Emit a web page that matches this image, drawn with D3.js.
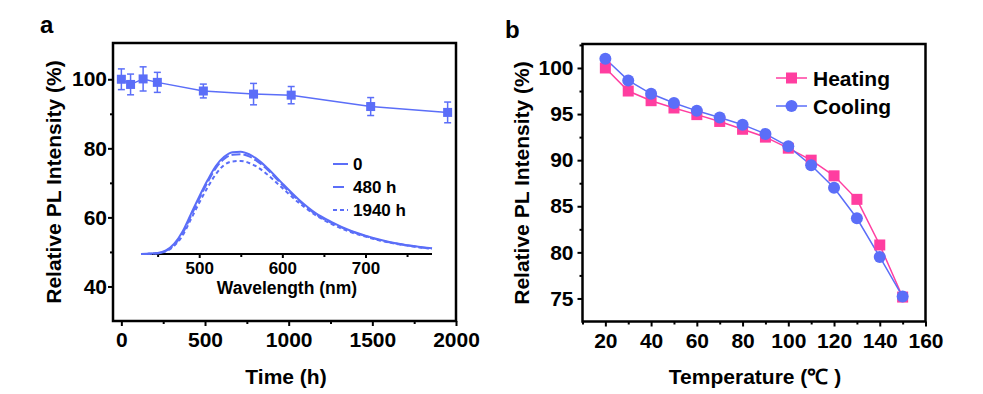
<!DOCTYPE html>
<html>
<head>
<meta charset="utf-8">
<script src="https://cdn.jsdelivr.net/npm/d3@7"></script>
<style>
  body { margin: 0; background: #fff; }
  text { font-family: "Liberation Sans", Arial, sans-serif; font-weight: bold; }
</style>
</head>
<body>
<div id="chart"></div>
<script>
// ---- panel a: stability over time ----
const timeH = [0, 55, 130, 215, 490, 790, 1015, 1490, 1950];
const relPL = [100, 98.5, 100.1, 99.1, 96.6, 95.7, 95.4, 92.1, 90.4];
const relErr = [3, 3, 3.5, 2.9, 2, 3.1, 2.5, 2.6, 3];

// inset spectra
const wavelength = [430, 450, 460, 470, 480, 490, 500, 510, 520, 530, 540, 550, 560, 570, 580, 590, 600, 620, 640, 660, 680, 700, 720, 740, 760, 780];
const spec0 = [0, 0.01, 0.035, 0.10, 0.22, 0.39, 0.56, 0.72, 0.86, 0.95, 0.995, 1.0, 0.975, 0.925, 0.855, 0.775, 0.69, 0.53, 0.40, 0.31, 0.235, 0.18, 0.135, 0.10, 0.075, 0.055];
const spec480 = [0, 0.008, 0.03, 0.09, 0.20, 0.37, 0.54, 0.70, 0.84, 0.93, 0.97, 0.975, 0.955, 0.905, 0.84, 0.76, 0.675, 0.52, 0.39, 0.30, 0.23, 0.175, 0.13, 0.097, 0.072, 0.053];
const spec1940 = [0, 0.007, 0.027, 0.08, 0.18, 0.34, 0.50, 0.65, 0.78, 0.87, 0.905, 0.91, 0.89, 0.85, 0.79, 0.72, 0.645, 0.50, 0.38, 0.29, 0.22, 0.17, 0.127, 0.094, 0.07, 0.05];
const specLabels = ["0", "480 h", "1940 h"];

// ---- panel b: temperature dependence ----
const temps = [20, 30, 40, 50, 60, 70, 80, 90, 100, 110, 120, 130, 140, 150];
const heating = [100, 97.5, 96.45, 95.66, 94.94, 94.2, 93.35, 92.5, 91.3, 90.0, 88.3, 85.75, 80.8, 75.15];
const cooling = [101, 98.65, 97.2, 96.2, 95.35, 94.62, 93.85, 92.85, 91.5, 89.45, 87.0, 83.7, 79.5, 75.2];

const blue = "#5b6ef8";
const pink = "#ff3ea0";
const fmt = d3.format("d");

const svg = d3.select("#chart").append("svg")
    .attr("width", 983)
    .attr("height", 394);

// helper: style an axis group
function styleAxis(g, fontSize) {
    g.select(".domain").remove();
    g.selectAll(".tick line").attr("stroke", "#000").attr("stroke-width", 2);
    g.selectAll(".tick text")
        .attr("fill", "#000")
        .style("font-size", fontSize + "px")
        .style("font-family", "'Liberation Sans', Arial, sans-serif")
        .style("font-weight", "bold");
}

// ================= panel a =================
const xA = d3.scaleLinear().domain([-50, 2000]).range([113, 456]);
const yA = d3.scaleLinear().domain([30, 110.5]).range([321, 43]);

// axes
svg.append("g")
    .attr("transform", `translate(0,${yA.range()[0]})`)
    .call(d3.axisBottom(xA).tickValues([0, 500, 1000, 1500, 2000]).tickFormat(fmt).tickSize(5).tickPadding(6))
    .call(g => styleAxis(g, 21));
svg.append("g")
    .attr("transform", `translate(0,${yA.range()[0]})`)
    .call(d3.axisBottom(xA).tickValues([250, 750, 1250, 1750]).tickSize(3).tickFormat(""))
    .call(g => styleAxis(g, 21));
svg.append("g")
    .attr("transform", `translate(${xA.range()[0]},0)`)
    .call(d3.axisLeft(yA).tickValues([40, 60, 80, 100]).tickFormat(fmt).tickSize(5).tickPadding(1))
    .call(g => styleAxis(g, 21));
svg.append("g")
    .attr("transform", `translate(${xA.range()[0]},0)`)
    .call(d3.axisLeft(yA).tickValues([50, 70, 90]).tickSize(3).tickFormat(""))
    .call(g => styleAxis(g, 21));

// frame
svg.append("rect")
    .attr("x", xA.range()[0]).attr("y", yA.range()[1])
    .attr("width", xA.range()[1] - xA.range()[0])
    .attr("height", yA.range()[0] - yA.range()[1])
    .attr("fill", "none").attr("stroke", "#000").attr("stroke-width", 2.5);

// line + error bars + squares
const ptsA = timeH.map((t, i) => ({t: t, v: relPL[i], e: relErr[i]}));
svg.append("path")
    .datum(ptsA)
    .attr("d", d3.line().x(d => xA(d.t)).y(d => yA(d.v)))
    .attr("fill", "none").attr("stroke", blue).attr("stroke-width", 1.5);

const errG = svg.append("g").attr("stroke", blue).attr("stroke-width", 1.5);
ptsA.forEach(d => {
    const x = xA(d.t);
    errG.append("line").attr("x1", x).attr("x2", x).attr("y1", yA(d.v - d.e)).attr("y2", yA(d.v + d.e));
    errG.append("line").attr("x1", x - 3.5).attr("x2", x + 3.5).attr("y1", yA(d.v - d.e)).attr("y2", yA(d.v - d.e));
    errG.append("line").attr("x1", x - 3.5).attr("x2", x + 3.5).attr("y1", yA(d.v + d.e)).attr("y2", yA(d.v + d.e));
});
svg.append("g").selectAll("rect")
    .data(ptsA).enter().append("rect")
    .attr("x", d => xA(d.t) - 4.5).attr("y", d => yA(d.v) - 4.5)
    .attr("width", 9).attr("height", 9).attr("fill", blue);

// axis titles
svg.append("text")
    .attr("x", 286).attr("y", 384)
    .attr("text-anchor", "middle").style("font-size", "21px")
    .text("Time (h)");
svg.append("text")
    .attr("transform", "translate(61,182) rotate(-90)")
    .attr("text-anchor", "middle").style("font-size", "21px")
    .text("Relative PL Intensity (%)");
svg.append("text").attr("x", 40).attr("y", 33).style("font-size", "24px").text("a");

// ---- inset ----
const xI = d3.scaleLinear().domain([430, 780]).range([141, 432]);
const yI = d3.scaleLinear().domain([0, 1]).range([254, 151.7]);

svg.append("g")
    .attr("transform", `translate(0,254)`)
    .call(d3.axisBottom(xI).tickValues([500, 600, 700]).tickSize(4).tickPadding(4))
    .call(g => styleAxis(g, 17));
svg.append("g")
    .attr("transform", `translate(0,254)`)
    .call(d3.axisBottom(xI).tickValues([450, 550, 650, 750]).tickSize(3).tickFormat(""))
    .call(g => styleAxis(g, 17));
svg.append("line")
    .attr("x1", xI.range()[0]).attr("x2", xI.range()[1])
    .attr("y1", 254).attr("y2", 254)
    .attr("stroke", "#000").attr("stroke-width", 2);

const spectra = [spec0, spec480, spec1940];
const dashes = [null, "9,3", "4,3"];
const specLine = d3.line()
    .x((d, i) => xI(wavelength[i]))
    .y(d => yI(d))
    .curve(d3.curveMonotoneX);
spectra.forEach((s, k) => {
    svg.append("path")
        .datum(s)
        .attr("d", specLine)
        .attr("fill", "none").attr("stroke", blue).attr("stroke-width", 2)
        .attr("stroke-dasharray", dashes[k]);
});

svg.append("text")
    .attr("x", 287).attr("y", 294)
    .attr("text-anchor", "middle").style("font-size", "17.5px")
    .text("Wavelength (nm)");

// inset legend
specLabels.forEach((lab, k) => {
    const y = 164 + k * 23;
    svg.append("line")
        .attr("x1", 333).attr("x2", 348).attr("y1", y).attr("y2", y)
        .attr("stroke", blue).attr("stroke-width", 2)
        .attr("stroke-dasharray", k === 1 ? "11,4" : dashes[k]);
    svg.append("text")
        .attr("x", 353).attr("y", y + 6)
        .style("font-size", "17px")
        .text(lab);
});

// ================= panel b =================
const xB = d3.scaleLinear().domain([10, 160]).range([582.5, 925.5]);
const yB = d3.scaleLinear().domain([72.5, 102.6]).range([321.5, 44]);

svg.append("g")
    .attr("transform", `translate(0,${yB.range()[0]})`)
    .call(d3.axisBottom(xB).tickValues(d3.range(20, 161, 20)).tickFormat(fmt).tickSize(5).tickPadding(7))
    .call(g => styleAxis(g, 21));
svg.append("g")
    .attr("transform", `translate(0,${yB.range()[0]})`)
    .call(d3.axisBottom(xB).tickValues(d3.range(10, 160, 20)).tickSize(3).tickFormat(""))
    .call(g => styleAxis(g, 21));
svg.append("g")
    .attr("transform", `translate(${xB.range()[0]},0)`)
    .call(d3.axisLeft(yB).tickValues([75, 80, 85, 90, 95, 100]).tickFormat(fmt).tickSize(5).tickPadding(4))
    .call(g => styleAxis(g, 21));
svg.append("g")
    .attr("transform", `translate(${xB.range()[0]},0)`)
    .call(d3.axisLeft(yB).tickValues([77.5, 82.5, 87.5, 92.5, 97.5, 102.5]).tickSize(3).tickFormat(""))
    .call(g => styleAxis(g, 21));

svg.append("rect")
    .attr("x", xB.range()[0]).attr("y", yB.range()[1])
    .attr("width", xB.range()[1] - xB.range()[0])
    .attr("height", yB.range()[0] - yB.range()[1])
    .attr("fill", "none").attr("stroke", "#000").attr("stroke-width", 2.5);

const lineB = d3.line().x((d, i) => xB(temps[i])).y(d => yB(d));

svg.append("path").datum(heating).attr("d", lineB)
    .attr("fill", "none").attr("stroke", pink).attr("stroke-width", 1.5);
svg.append("path").datum(cooling).attr("d", lineB)
    .attr("fill", "none").attr("stroke", blue).attr("stroke-width", 1.5);

svg.append("g").selectAll("rect")
    .data(heating).enter().append("rect")
    .attr("x", (d, i) => xB(temps[i]) - 5.5).attr("y", d => yB(d) - 5.5)
    .attr("width", 11).attr("height", 11).attr("fill", pink);
svg.append("g").selectAll("circle")
    .data(cooling).enter().append("circle")
    .attr("cx", (d, i) => xB(temps[i])).attr("cy", d => yB(d))
    .attr("r", 6).attr("fill", blue);

// legend
const legend = svg.append("g");
legend.append("line").attr("x1", 776).attr("x2", 807).attr("y1", 78).attr("y2", 78)
    .attr("stroke", pink).attr("stroke-width", 1.5);
legend.append("rect").attr("x", 786).attr("y", 72.5).attr("width", 11).attr("height", 11).attr("fill", pink);
legend.append("text").attr("x", 813).attr("y", 85.5).style("font-size", "21px").text("Heating");
legend.append("line").attr("x1", 776).attr("x2", 807).attr("y1", 106).attr("y2", 106)
    .attr("stroke", blue).attr("stroke-width", 1.5);
legend.append("circle").attr("cx", 791.5).attr("cy", 106).attr("r", 6).attr("fill", blue);
legend.append("text").attr("x", 813).attr("y", 113.5).style("font-size", "21px").text("Cooling");

svg.append("text")
    .attr("x", 755).attr("y", 384)
    .attr("text-anchor", "middle").style("font-size", "21px")
    .text("Temperature (℃ )");
svg.append("text")
    .attr("transform", "translate(529,183) rotate(-90)")
    .attr("text-anchor", "middle").style("font-size", "21px")
    .text("Relative PL Intensity (%)");
svg.append("text").attr("x", 505).attr("y", 37.5).style("font-size", "24px").text("b");
</script>
</body>
</html>
